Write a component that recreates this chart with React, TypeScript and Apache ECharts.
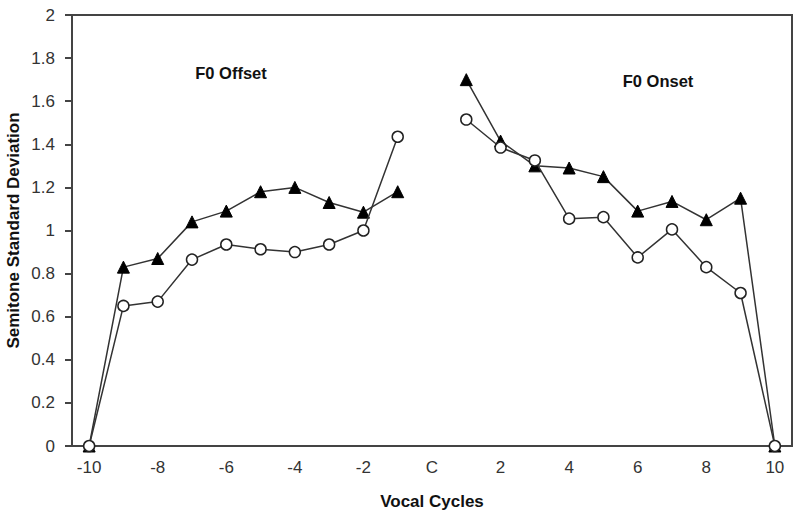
import React, { useEffect, useRef } from "react";
import * as echarts from "echarts";

const offsetCycles = [-10, -9, -8, -7, -6, -5, -4, -3, -2, -1];
const offsetTriangles = [0, 0.83, 0.87, 1.04, 1.09, 1.18, 1.2, 1.13, 1.085, 1.18];
const offsetCircles = [0, 0.65, 0.67, 0.865, 0.935, 0.913, 0.9, 0.935, 1.0, 1.435];

const onsetCycles = [1, 2, 3, 4, 5, 6, 7, 8, 9, 10];
const onsetTriangles = [1.7, 1.415, 1.3, 1.29, 1.25, 1.09, 1.135, 1.05, 1.15, 0];
const onsetCircles = [1.515, 1.385, 1.325, 1.055, 1.062, 0.875, 1.005, 0.83, 0.71, 0];

const xTickValues = [-10, -8, -6, -4, -2, 0, 2, 4, 6, 8, 10];

const pairs = (xs: number[], ys: number[]) => xs.map((x, i) => [x, ys[i]]);

const FONT = "'Liberation Sans', Arial, sans-serif";

export default function App() {
  const ref = useRef<HTMLDivElement>(null);
  useEffect(() => {
    if (!ref.current) return;
    const chart = echarts.init(ref.current, undefined, { renderer: "svg" });
    const lineStyle = { color: "#333", width: 1.5 };
    const triSeries = (name: string, xs: number[], ys: number[]) => ({
      name,
      type: "line",
      data: pairs(xs, ys),
      symbol: "triangle",
      symbolSize: 12,
      lineStyle,
      itemStyle: { color: "#000", borderColor: "#000", borderWidth: 1 },
      z: 2,
    });
    const circSeries = (name: string, xs: number[], ys: number[]) => ({
      name,
      type: "line",
      data: pairs(xs, ys),
      symbol: "circle",
      symbolSize: 11,
      lineStyle,
      itemStyle: { color: "#fff", borderColor: "#222", borderWidth: 1.5 },
      z: 3,
    });
    chart.setOption({
      animation: false,
      backgroundColor: "#fff",
      grid: {
        left: 72,
        right: 8,
        top: 15,
        bottom: 72,
        containLabel: false,
        outerBoundsMode: "none",
        show: true,
        borderColor: "#444",
        borderWidth: 2,
        backgroundColor: "transparent",
      },
      xAxis: {
        type: "value",
        min: -10.5,
        max: 10.5,
        name: "Vocal Cycles",
        nameLocation: "middle",
        nameGap: 47,
        nameMoveOverlap: false,
        nameTextStyle: { fontFamily: FONT, fontWeight: "bold", fontSize: 17, color: "#111" },
        axisLine: { show: true, onZero: false, lineStyle: { color: "#444", width: 2 } },
        axisTick: { show: false },
        splitLine: { show: false },
        axisLabel: {
          customValues: xTickValues,
          formatter: (v: number) => (v === 0 ? "C" : String(v)),
          fontFamily: FONT,
          fontSize: 17,
          color: "#333",
          margin: 13,
        },
      },
      yAxis: {
        type: "value",
        min: 0,
        max: 2,
        interval: 0.2,
        name: "Semitone Standard Deviation",
        nameLocation: "middle",
        nameGap: 50,
        nameRotate: 90,
        nameMoveOverlap: false,
        nameTextStyle: { fontFamily: FONT, fontWeight: "bold", fontSize: 17, color: "#111" },
        axisLine: { show: true, onZero: false, lineStyle: { color: "#444", width: 2 } },
        axisTick: { show: true, inside: false, length: 7, lineStyle: { color: "#444", width: 2 } },
        splitLine: { show: false },
        axisLabel: {
          fontFamily: FONT,
          fontSize: 17,
          color: "#333",
          margin: 17,
        },
      },
      graphic: [
        {
          type: "text",
          x: 231,
          y: 73,
          style: {
            text: "F0 Offset",
            font: `bold 16.5px ${FONT}`,
            fill: "#111",
            textAlign: "center",
            textVerticalAlign: "middle",
          },
        },
        {
          type: "text",
          x: 658,
          y: 81,
          style: {
            text: "F0 Onset",
            font: `bold 16.5px ${FONT}`,
            fill: "#111",
            textAlign: "center",
            textVerticalAlign: "middle",
          },
        },
      ],
      series: [
        triSeries("Offset triangles", offsetCycles, offsetTriangles),
        triSeries("Onset triangles", onsetCycles, onsetTriangles),
        circSeries("Offset circles", offsetCycles, offsetCircles),
        circSeries("Onset circles", onsetCycles, onsetCircles),
      ],
    });
    return () => chart.dispose();
  }, []);
  return <div ref={ref} style={{ width: 800, height: 518, position: "absolute", left: 0, top: 0 }} />;
}
